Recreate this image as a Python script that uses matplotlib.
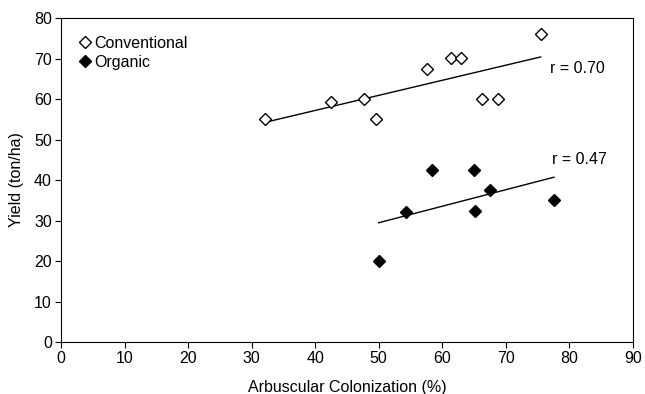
import numpy as np
import matplotlib
matplotlib.use("Agg")
import matplotlib.pyplot as plt

plt.rcParams["font.family"] = ["Liberation Sans", "DejaVu Sans"]

conv_x = [32.1, 42.5, 47.7, 49.6, 57.6, 61.4, 62.9, 66.2, 68.8, 75.5]
conv_y = [55.1, 59.3, 60.0, 55.1, 67.4, 70.1, 70.1, 60.0, 60.0, 76.0]
org_x = [50.0, 54.3, 58.4, 65.0, 65.1, 67.5, 77.6]
org_y = [20.0, 32.1, 42.5, 42.5, 32.3, 37.5, 35.1]
conv_r = "r = 0.70"
org_r = "r = 0.47"

fig = plt.figure(figsize=(6.45, 3.94), dpi=100)
ax = fig.add_axes([0.0946, 0.132, 0.8864, 0.822])

ax.plot(conv_x, conv_y, "D", ms=6, mfc="white", mec="black", mew=1.0,
        label="Conventional", zorder=3)
ax.plot(org_x, org_y, "D", ms=6, mfc="black", mec="black", mew=1.0,
        label="Organic", zorder=3)

# linear trend lines
for xs, ys in [(conv_x, conv_y), (org_x, org_y)]:
    m, b = np.polyfit(xs, ys, 1)
    xx = np.array([min(xs), max(xs)])
    ax.plot(xx, m * xx + b, color="black", lw=1.0, zorder=2)

ax.text(77.0, 67.5, conv_r, fontsize=11.5, va="center", ha="left")
ax.text(77.3, 45.0, org_r, fontsize=11.5, va="center", ha="left")

ax.set_xlim(0, 90)
ax.set_ylim(0, 80)
ax.set_xticks(range(0, 91, 10))
ax.set_yticks(range(0, 81, 10))
ax.tick_params(direction="out", length=4, width=0.8, labelsize=11.5,
               colors="black", pad=2.5)
for s in ax.spines.values():
    s.set_linewidth(0.8)

ax.set_xlabel("Arbuscular Colonization (%)", fontsize=11.5, labelpad=10)
ax.set_ylabel("Yield (ton/ha)", fontsize=11.5, labelpad=7)

ax.legend(loc="upper left", frameon=False, fontsize=11.5, handletextpad=0.2,
          handlelength=0.8, borderaxespad=0.7, labelspacing=0.25,
          borderpad=0.4)

fig.savefig("out.png", dpi=100)
